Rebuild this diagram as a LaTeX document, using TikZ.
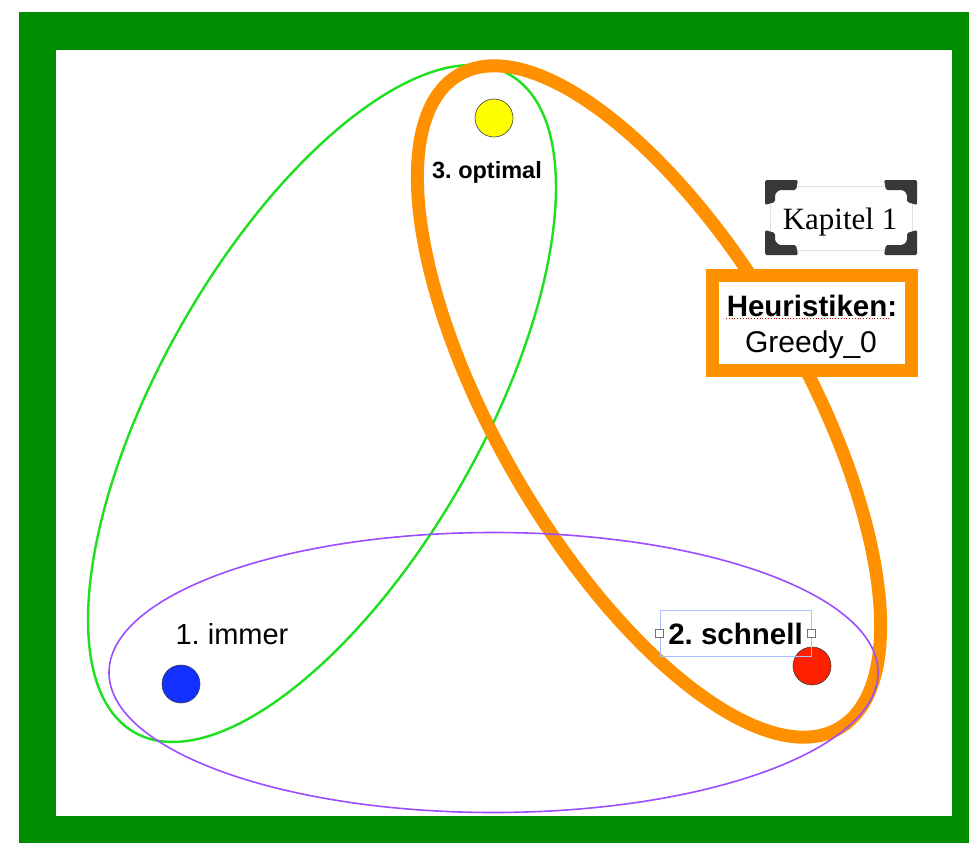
\documentclass[tikz,border=0pt]{standalone}
\usepackage{fontspec}
\setmainfont{Liberation Sans}
\newfontfamily\timesfont{Liberation Serif}
\frenchspacing
\definecolor{framegreen}{HTML}{008C00}
\definecolor{lgreen}{HTML}{1EE01E}
\definecolor{orng}{HTML}{FF9100}
\definecolor{purp}{HTML}{9B4DFF}
\definecolor{dotblue}{HTML}{1230FF}
\definecolor{dotred}{HTML}{FF2000}
\definecolor{dotyellow}{HTML}{FFFF00}
\definecolor{selblue}{HTML}{A6C2FF}
\tikzset{
  dotnode/.style={circle, draw=black!75, line width=0.6pt, minimum size=38pt, inner sep=0pt},
  lbl/.style={font=\fontsize{29}{34}\selectfont, inner sep=0pt, anchor=base},
  handle/.style={rectangle, draw=black!55, fill=white, line width=0.6pt, minimum size=8pt, inner sep=0pt},
  bracket/.pic={\fill[black!78, rounded corners=1.5pt] (0,0) -- (33,0) -- (31,10) -- (14,10) -- (10,14) -- (10,22) -- (0,25) -- cycle;}
}
\begin{document}
\begin{tikzpicture}[x=1pt,y=-1pt]
\useasboundingbox (0,0) rectangle (969,843);
\fill[white] (0,0) rectangle (969,843);
\fill[framegreen] (19,12) rectangle (969,843);
\fill[white] (56,50) rectangle (952,816);
% ellipses
\draw[lgreen, line width=2.4pt, rotate around={60.3:(322,403.5)}] (322,403.5) ellipse [x radius=378.6, y radius=161];
\draw[orng, line width=13pt, rotate around={120.2:(649,401.5)}] (649,401.5) ellipse [x radius=378, y radius=153];
\draw[purp, line width=1.6pt] (493.5,672.5) ellipse [x radius=384.5, y radius=140];
% dots
\node[dotnode, fill=dotyellow] (yellow) at (494,118) {};
\node[dotnode, fill=dotblue] (blue) at (181,684) {};
\node[dotnode, fill=dotred] (red) at (812,666) {};
% labels
\node[lbl] (immer) at (232,644) {1. immer};
\node[lbl, font=\fontsize{23.5}{28}\selectfont\bfseries] (optimal) at (487,178) {3. optimal};
\node[draw=selblue, line width=1pt, minimum width=151pt, minimum height=46pt, inner sep=0pt] (sel) at (735.5,633) {};
\node[handle] (h1) at (sel.west) {};
\node[handle] (h2) at (sel.east) {};
\node[lbl, font=\fontsize{29.5}{34}\selectfont\bfseries] (schnell) at (735.5,644) {2. schnell};
% Heuristiken box
\node[draw=orng, fill=white, line width=13pt, minimum width=199pt, minimum height=95pt, inner sep=0pt] (hbox) at (812,323) {};
\node[lbl, font=\fontsize{29.5}{34}\selectfont\bfseries] (heur) at (812,316) {Heuristiken:};
\draw[red!85!black, dotted, line width=0.8pt] (726,318.5) -- (889,318.5);
\node[lbl, font=\fontsize{30}{34}\selectfont] (greedy) at (811,352) {Greedy\_0};
% Kapitel frame
\node[draw=black!12, fill=white, line width=1pt, minimum width=142pt, minimum height=64pt, inner sep=0pt] (kap) at (841,218) {};
\pic at (765,180) {bracket};
\pic[xscale=-1] at (917,180) {bracket};
\pic[yscale=-1] at (765,255) {bracket};
\pic[xscale=-1, yscale=-1] at (917,255) {bracket};
\node[lbl, font=\fontsize{31}{34}\selectfont\timesfont] (kaptext) at (840,229) {Kapitel 1};
\end{tikzpicture}
\end{document}
